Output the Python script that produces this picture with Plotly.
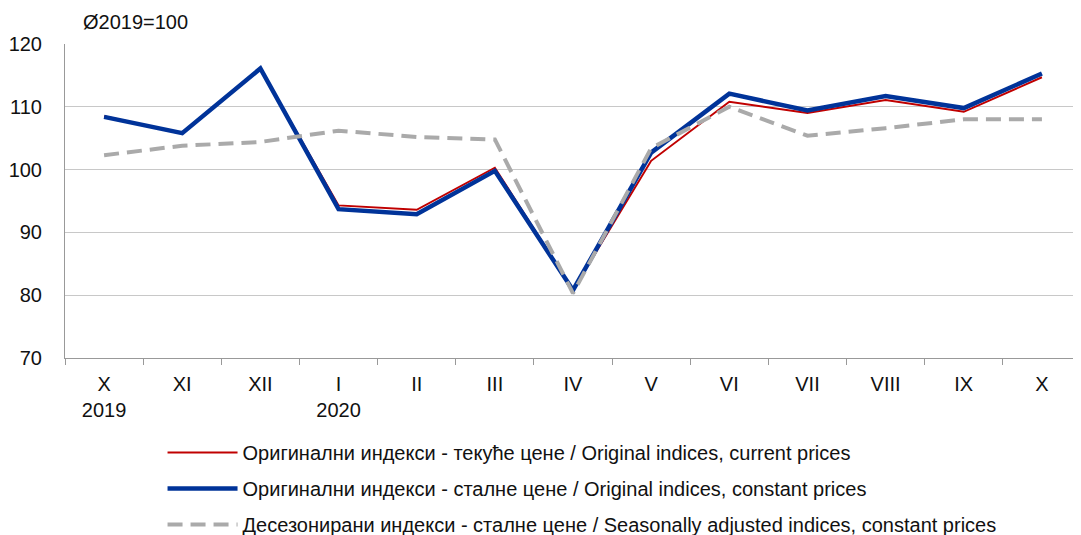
import plotly.graph_objects as go

MONTHS = ["X<br>2019", "XI", "XII", "I<br>2020", "II", "III", "IV",
          "V", "VI", "VII", "VIII", "IX", "X"]
CURRENT = [108.5, 105.8, 116.1, 94.3, 93.6, 100.3, 80.8,
           101.4, 110.8, 109.0, 111.1, 109.2, 114.7]
CONSTANT = [108.4, 105.8, 116.1, 93.7, 92.9, 99.8, 80.8,
            102.7, 112.1, 109.4, 111.7, 109.8, 115.3]
SEASONAL = [102.3, 103.8, 104.4, 106.2, 105.2, 104.8, 80.3,
            103.4, 110.0, 105.4, 106.6, 108.0, 108.0]

NAMES = [
    "Оригинални индекси - текуће цене / Original indices, current prices",
    "Оригинални индекси - сталне цене / Original indices, constant prices",
    "Десезонирани индекси - сталне цене / Seasonally adjusted indices, constant prices",
]

RED = "#C00000"
BLUE = "#003399"
GRAY = "#AAAAAA"
GRID = "#C8C8C8"
AXIS = "#999999"

fig = go.Figure()
fig.add_trace(go.Scatter(x=MONTHS, y=CURRENT, name=NAMES[0], mode="lines",
                         legendgroup="a", line=dict(color=RED, width=2)))
fig.add_trace(go.Scatter(x=MONTHS, y=CONSTANT, name=NAMES[1], mode="lines",
                         legendgroup="b", line=dict(color=BLUE, width=4.5)))
fig.add_trace(go.Scatter(x=MONTHS, y=SEASONAL, name=NAMES[2], mode="lines",
                         legendgroup="c",
                         line=dict(color=GRAY, width=4, dash="15px,8px")))

# page body has an 8px margin, so the figure is sized to fill the rest
fig.update_layout(
    width=1073, height=527,
    paper_bgcolor="white", plot_bgcolor="white",
    font=dict(family="Liberation Sans, Arial", size=20, color="#111111"),
    margin=dict(l=57, r=0, t=36, b=177),
    showlegend=True,
    legend=dict(
        x=0.096, y=0.1935, xanchor="left", yanchor="top", yref="container",
        orientation="v", itemwidth=70, tracegroupgap=7,
        traceorder="grouped",
        font=dict(size=20),
        bgcolor="rgba(0,0,0,0)",
    ),
    annotations=[dict(
        text="Ø2019=100", xref="paper", yref="paper", x=0.016, y=1.03,
        xanchor="left", yanchor="bottom", showarrow=False,
        font=dict(size=20),
    )],
)
fig.update_xaxes(
    type="category", range=[-0.5, 12.5],
    showline=True, linecolor=AXIS, linewidth=1,
    ticks="outside", tickson="boundaries", ticklen=6, tickcolor=AXIS,
    showgrid=False, zeroline=False, ticklabelstandoff=8,
)
fig.update_yaxes(
    range=[70, 120], dtick=10,
    showline=True, linecolor=AXIS, linewidth=1,
    showgrid=True, gridcolor=GRID, gridwidth=1,
    zeroline=False, ticks="", ticklabelstandoff=18,
)

fig.write_html("out.html")
